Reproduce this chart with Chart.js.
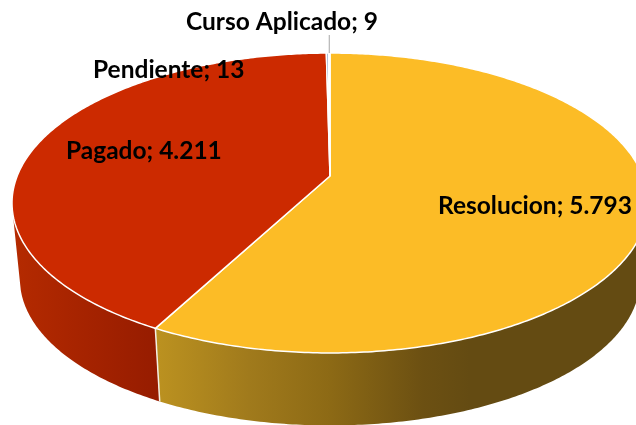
<!DOCTYPE html>
<html>
<head>
<meta charset="utf-8">
<title>Estado</title>
<script src="https://cdn.jsdelivr.net/npm/chart.js@4/dist/chart.umd.min.js"></script>
<style>
    html, body { margin: 0; padding: 0; background: #ffffff; overflow: hidden; }
    canvas { display: block; }
</style>
</head>
<body>
<canvas id="pieChart" width="636" height="425"></canvas>
<script>
const categories = ['Resolucion', 'Pagado', 'Pendiente', 'Curso Aplicado'];
const values = [5793, 4211, 13, 9];
const sliceColors = ['#fcbc26', '#cc2a00', '#5b7fb5', '#a5a5a5'];

// where each label starts (left, middle), same order as categories
const labelX = [438, 66, 93, 186];
const labelY = [206, 151, 70, 22];

// perspective of the disc: top face and bottom rim
const top3d = { cx: 330, cy: 176, a: 312.8, b: 145.1, k: 0.18 };
const rim3d = { cx: 330, cy: 252.9, a: 305, b: 141.5, k: 0.18 };

function project(view, angle) {
    const u = Math.cos(angle);
    const v = Math.sin(angle);
    const d = 1 - view.k * v;
    return { x: view.cx + view.a * u / d, y: view.cy + view.b * v / d };
}

function traceEdge(ctx, view, from, to) {
    const steps = Math.max(2, Math.ceil(Math.abs(to - from) * 90));
    for (let i = 0; i <= steps; i++) {
        const p = project(view, from + (to - from) * i / steps);
        ctx.lineTo(p.x, p.y);
    }
}

function wallGradient(ctx, x0, x1, stops) {
    const g = ctx.createLinearGradient(x0, 0, x1, 0);
    stops.forEach(s => g.addColorStop(s[0], s[1]));
    return g;
}

const pie3d = {
    id: 'pie3d',
    beforeDatasetDraw(chart, args) {
        const ctx = chart.ctx;
        const arcs = args.meta.data;
        // only the front of the disc shows a wall
        const frontStart = Math.PI * 0.05;
        const frontEnd = Math.PI * 0.92;

        const yellowWall = wallGradient(ctx, 155, 470, [[0, '#bc9220'], [0.3, '#a07a1c'], [0.55, '#8d6a15'], [0.85, '#6c5012'], [1, '#644b12']]);
        const redWall = wallGradient(ctx, 15, 158, [[0, '#b42a00'], [1, '#961c00']]);
        const walls = [yellowWall, redWall];

        [0, 1].forEach(i => {
            const from = Math.max(arcs[i].startAngle, frontStart);
            const to = Math.min(arcs[i].endAngle, frontEnd);
            ctx.beginPath();
            traceEdge(ctx, top3d, from, to);
            traceEdge(ctx, rim3d, to, from);
            ctx.closePath();
            ctx.fillStyle = walls[i];
            ctx.fill();
        });

        // seam between the two walls
        const seam = arcs[0].endAngle;
        const s0 = project(top3d, seam);
        const s1 = project(rim3d, seam);
        ctx.beginPath();
        ctx.moveTo(s0.x, s0.y);
        ctx.lineTo(s1.x, s1.y);
        ctx.strokeStyle = '#f4f0e6';
        ctx.lineWidth = 1.5;
        ctx.stroke();

        arcs.forEach(arc => {
            ctx.beginPath();
            ctx.moveTo(top3d.cx, top3d.cy);
            traceEdge(ctx, top3d, arc.startAngle, arc.endAngle);
            ctx.closePath();
            ctx.fillStyle = arc.options.backgroundColor;
            ctx.fill();
            ctx.strokeStyle = arc.options.borderColor;
            ctx.lineWidth = arc.options.borderWidth;
            ctx.stroke();
        });
        return false;
    },
    afterDatasetsDraw(chart) {
        const ctx = chart.ctx;
        // leader line for the smallest slice
        const arcs = chart.getDatasetMeta(0).data;
        const last = arcs[arcs.length - 1];
        const p = project(top3d, (last.startAngle + last.endAngle) / 2);
        ctx.beginPath();
        ctx.moveTo(p.x, p.y);
        ctx.lineTo(p.x, 35);
        ctx.strokeStyle = '#a6a6a6';
        ctx.lineWidth = 1;
        ctx.stroke();

        ctx.font = 'bold 24.5px Lato';
        ctx.fillStyle = '#000000';
        ctx.textAlign = 'left';
        ctx.textBaseline = 'middle';
        categories.forEach((name, i) => {
            ctx.fillText(name + '; ' + values[i].toLocaleString('de-DE'), labelX[i], labelY[i]);
        });
    }
};

new Chart(document.getElementById('pieChart'), {
    type: 'pie',
    data: {
        labels: categories,
        datasets: [{
            data: values,
            backgroundColor: sliceColors,
            borderColor: '#ffffff',
            borderWidth: 1.5
        }]
    },
    options: {
        responsive: false,
        animation: false,
        plugins: {
            legend: { display: false },
            tooltip: { enabled: false }
        }
    },
    plugins: [pie3d]
});
</script>
</body>
</html>
